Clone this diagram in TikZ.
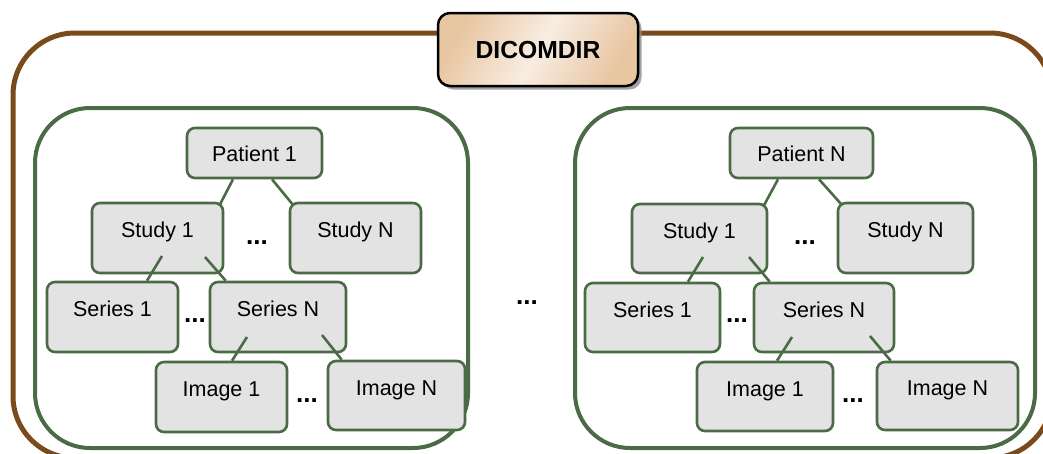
\documentclass[tikz,border=0pt]{standalone}
\usepackage{fontspec}
\setmainfont{Liberation Sans}
\usetikzlibrary{calc,shadows}
\definecolor{brownline}{HTML}{7B4A1C}
\definecolor{greenline}{HTML}{4B6B46}
\definecolor{boxfill}{HTML}{E3E3E3}
\definecolor{tanD}{HTML}{E8C6A2}
\definecolor{tanL}{HTML}{F8EDE2}
\tikzset{
  entry/.style={draw=greenline, fill=boxfill, line width=2.6pt, rounded corners=8pt,
    inner sep=0pt, align=center, font=\fontsize{21.5}{24}\selectfont,
    text height=16pt},
  raised/.style={entry, text depth=16.5pt},
  flat/.style={entry, text depth=0pt},
  conn/.style={draw=greenline, line width=2.6pt},
  group/.style={draw=greenline, line width=4pt, rounded corners=55pt},
  outer/.style={draw=brownline, line width=5pt, rounded corners=62pt},
  dots/.style={inner sep=0pt, text height=0pt, text depth=0pt,
    font=\fontsize{26}{28}\selectfont\bfseries},
  titlebox/.style={draw=black, line width=2.5pt, rounded corners=12pt,
    left color=tanD, right color=tanD, middle color=tanL, shading angle=60,
    drop shadow={shadow xshift=3.5pt, shadow yshift=-3.5pt, fill=black!45, opacity=0.8},
    font=\fontsize{24.7}{28}\selectfont\bfseries, inner sep=0pt}
}
\begin{document}
\begin{tikzpicture}[x=1pt,y=-1pt]
\useasboundingbox (0,0) rectangle (1043,453);
\clip (0,0) rectangle (1043,453);
\fill[white] (0,0) rectangle (1043,453);
% outer frame
\draw[outer] (13,33) rectangle (1052,458);
% title
\node[titlebox, minimum width=200pt, minimum height=73pt] (title) at (538,49.5) {DICOMDIR};
% groups
\draw[group] (35,108) rectangle (468,448);
\draw[group] (575,108) rectangle (1035,448);
% left group
\node[flat,   minimum width=135pt, minimum height=50pt] (p1)  at (254.5,153) {Patient 1};
\node[raised, minimum width=131pt, minimum height=70pt] (s1)  at (157.5,238) {Study 1};
\node[raised, minimum width=131pt, minimum height=70pt] (sN)  at (355.5,238) {Study N};
\node[raised, minimum width=131pt, minimum height=70pt] (r1)  at (112.5,317) {Series 1};
\node[raised, minimum width=136pt, minimum height=70pt] (rN)  at (278,317) {Series N};
\node[raised, minimum width=131pt, minimum height=70pt] (i1)  at (221.5,397) {Image 1};
\node[raised, minimum width=137pt, minimum height=69pt] (iN)  at (396.5,395.5) {Image N};
\node[dots] (ld1) at (257,244) {...};
\node[dots] (ld2) at (195,322) {...};
\node[dots] (ld3) at (307,402) {...};
\draw[conn] ($(p1.south)+(-21.5,0)$) -- ($(s1.north east)+(-5,4)$);
\draw[conn] ($(p1.south)+(17.5,0)$) -- ($(sN.north west)+(5,4)$);
\draw[conn] ($(s1.center)+(4.5,18)$) -- ($(r1.north)+(34.5,0)$);
\draw[conn] ($(s1.center)+(47.5,19)$) -- ($(rN.north west)+(17,0)$);
\draw[conn] ($(rN.center)+(-31,20)$) -- ($(i1.north)+(10.5,0)$);
\draw[conn] ($(rN.center)+(44,18)$) -- ($(iN.north west)+(15,0)$);
% middle dots
\node[dots] (md) at (527,304) {...};
% right group
\node[flat,   minimum width=143pt, minimum height=50pt] (pR)  at (801.5,153) {Patient N};
\node[raised, minimum width=135pt, minimum height=69pt] (sR1) at (699.5,238.5) {Study 1};
\node[raised, minimum width=135pt, minimum height=70pt] (sRN) at (905.5,238) {Study N};
\node[raised, minimum width=135pt, minimum height=69pt] (rR1) at (652.5,317.5) {Series 1};
\node[raised, minimum width=140pt, minimum height=69pt] (rRN) at (824,317.5) {Series N};
\node[raised, minimum width=136pt, minimum height=69pt] (iR1) at (765,396.5) {Image 1};
\node[raised, minimum width=141pt, minimum height=68pt] (iRN) at (947.5,396) {Image N};
\node[dots] (rd1) at (805,244) {...};
\node[dots] (rd2) at (737,322) {...};
\node[dots] (rd3) at (853,402) {...};
\draw[conn] ($(pR.south)+(-23.5,0)$) -- ($(sR1.north east)+(-4,2)$);
\draw[conn] ($(pR.south)+(17.5,0)$) -- ($(sRN.north west)+(5,3)$);
\draw[conn] ($(sR1.center)+(3.5,18.5)$) -- ($(rR1.north)+(35.5,0)$);
\draw[conn] ($(sR1.center)+(49.5,18.5)$) -- ($(rRN.north west)+(17,0)$);
\draw[conn] ($(rRN.center)+(-32,19.5)$) -- ($(iR1.north)+(12,0)$);
\draw[conn] ($(rRN.center)+(46,18.5)$) -- ($(iRN.north west)+(15,0)$);
\end{tikzpicture}
\end{document}
